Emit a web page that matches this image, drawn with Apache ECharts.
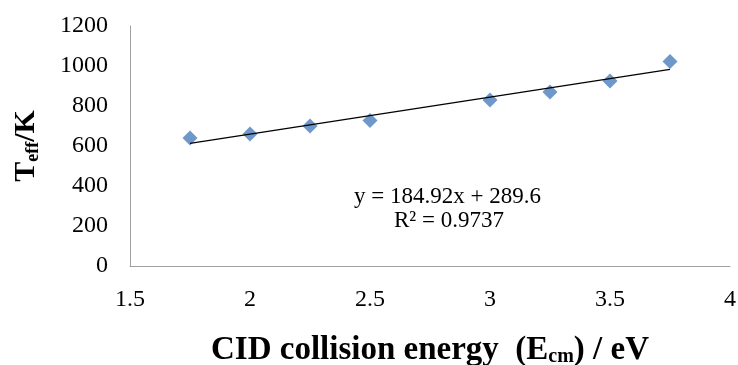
<!DOCTYPE html>
<html><head><meta charset="utf-8">
<script src="https://cdn.jsdelivr.net/npm/echarts@6/dist/echarts.min.js"></script>
<style>html,body{margin:0;padding:0;background:#fff}#c{width:738px;height:365px}</style>
</head><body><div id="c"></div>
<script>
var energies = [1.75, 2, 2.25, 2.5, 3, 3.25, 3.5, 3.75];
var teff = [640, 660, 700, 728, 830, 870, 925, 1022];
var fitSlope = 184.92, fitIntercept = 289.6;
var eqText = 'y = 184.92x + 289.6';
var r2Text = '0.9737';

var trend = [[energies[0], fitSlope*energies[0]+fitIntercept],
             [energies[energies.length-1], fitSlope*energies[energies.length-1]+fitIntercept]];
var serif = '"Liberation Serif","Times New Roman",serif';
var chart = echarts.init(document.getElementById('c'));
chart.setOption({
  animation:false,
  grid:{left:130,right:8,top:26,bottom:99,containLabel:false,outerBoundsMode:'none'},
  xAxis:{type:'value',min:1.5,max:4,interval:0.5,
    axisLine:{lineStyle:{color:'#a0a0a0'}},axisTick:{show:false},splitLine:{show:false},
    axisLabel:{color:'#000',fontFamily:serif,fontSize:24,margin:22,formatter:function(v){return String(v);}},
    name:'{b|CID collision energy  (E}{s|cm}{b|) / eV}',nameLocation:'middle',nameGap:67,
    nameTextStyle:{rich:{b:{fontFamily:serif,fontWeight:'bold',fontSize:33,color:'#000'},
      s:{fontFamily:serif,fontWeight:'bold',fontSize:20,color:'#000',padding:[14,0,0,0]}}}},
  yAxis:{type:'value',min:0,max:1200,interval:200,
    axisLine:{show:true,lineStyle:{color:'#a0a0a0'}},axisTick:{show:false},splitLine:{show:false},
    axisLabel:{color:'#000',fontFamily:serif,fontSize:24,margin:22,formatter:function(v){return String(v);}},
    name:'{b|T}{s|eff}{b|/K}',nameLocation:'middle',nameGap:88,
    nameTextStyle:{rich:{b:{fontFamily:serif,fontWeight:'bold',fontSize:30,color:'#000'},
      s:{fontFamily:serif,fontWeight:'bold',fontSize:18,color:'#000',padding:[14,0,0,0]}}}},
  series:[
    {type:'line',data:trend,symbol:'none',lineStyle:{color:'#000',width:1.2},z:3},
    {type:'scatter',data:energies.map(function(x,i){return [x,teff[i]];}),
     symbol:'diamond',symbolSize:[15,15],itemStyle:{color:'#4a7ebb'},z:2}
  ],
  graphic:[
    {type:'text',left:354,top:185,style:{text:eqText,font:'23px '+serif,fill:'#000'}},
    {type:'text',left:394,top:209,style:{text:'R² = '+r2Text,font:'23px '+serif,fill:'#000'}}
  ]
});
</script></body></html>
